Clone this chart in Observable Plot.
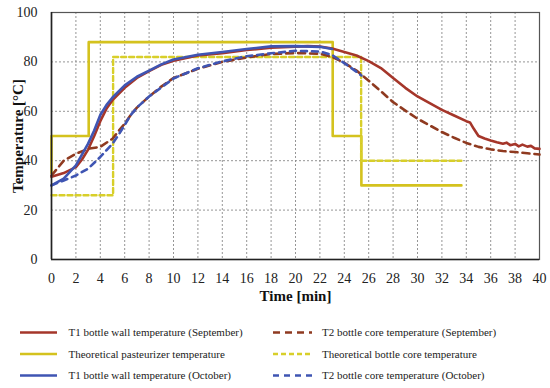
<!DOCTYPE html>
<html>
<head>
<meta charset="utf-8">
<script src="https://cdn.jsdelivr.net/npm/d3@7"></script>
<script src="https://cdn.jsdelivr.net/npm/@observablehq/plot@0.6"></script>
<style>
  html, body { margin: 0; padding: 0; background: #fff; }
  #chart { width: 550px; height: 388px; position: relative; }
  #chart svg, #chart text { font-family: "Times New Roman", "Liberation Serif", Times, "DejaVu Serif", "Noto Serif", Georgia, serif !important; }
  svg { display: block; }
</style>
</head>
<body>
<div id="chart"></div>
<script>
// ---- Data ----
const xTicks = [0,2,4,6,8,10,12,14,16,18,20,22,24,26,28,30,32,34,36,38,40];
const yTicks = [0,20,40,60,80,100];

const seriesNames = [
  "T1 bottle wall temperature (September)",
  "T2 bottle core temperature (September)",
  "Theoretical pasteurizer temperature",
  "Theoretical bottle core temperature",
  "T1 bottle wall temperature (October)",
  "T2 bottle core temperature (October)"
];

const t1SepTime = [0,1,2,2.5,3,3.5,4,4.5,5,6,7,8,9,10,12,14,16,18,20,21,22,23,24,25,26,27,28,29,30,31,32,33,34,34.3,34.6,35,35.5,36,36.5,37,37.3,37.6,38,38.3,38.6,39,39.3,39.6,40];
const t1SepTemp = [33.5,35,37.4,40.5,44.5,50,56,61,64.5,69.5,73.5,76.3,78.8,80.5,82.6,83.5,84.8,85.7,86.2,86.4,86.2,85.4,84,82.6,80.3,77.5,73.5,69.5,66,63.3,60.6,58.3,56,55.5,53,50,49,48.2,47.5,46.9,47.3,46.3,46.8,45.8,46.5,45.7,46,45,44.8];

const t2SepTime = [0,1,2,3,4,5,5.5,6,6.5,7,8,9,10,12,14,16,18,20,22,23,24,25,26,27,28,29,30,31,32,33,34,35,36,37,38,39,40];
const t2SepTemp = [34,40,42.8,44.8,45.6,48.9,52,55,58.5,61.5,66,70,73.5,77.2,80,81.8,83.2,83.6,83.3,82,79.6,76.5,72.4,68.1,63.7,60.3,57,54.3,51.6,49.3,47.2,45.6,44.6,43.9,43.5,43,42.5];

const pastTime = [0,0,3.05,3.05,23.05,23.05,25.4,25.4,33.6];
const pastTemp = [35,50,50,88,88,50,50,30,30];

const coreTime = [0,5.05,5.05,25.38,25.38,33.6];
const coreTemp = [26,26,82,82,40,40];

const t1OctTime = [0,1,2,3,3.5,4,4.5,5,6,7,8,9,10,12,14,16,18,20,22,23];
const t1OctTemp = [30,32.7,38.1,46.9,52.2,58.5,62.5,65.6,70.5,74,76.5,79,81,82.9,84,85.2,86.3,86.4,86.1,85.2];

const t2OctTime = [0,1,2,3,4,4.5,5,5.5,6,6.5,7,8,10,12,14,16,18,20,22,23,24,25,25.4];
const t2OctTemp = [30,32,34,36.8,41.5,44.2,46.9,50.5,54.5,58.5,61.5,66,73.3,77.4,80.2,82.3,83.5,84.5,84.2,82.8,79.5,76,74.5];

// ---- Styles ----
const styles = [
  {color: "#a5362a", dash: null,  width: 2.6},
  {color: "#8f3a20", dash: "7,5", width: 2.6},
  {color: "#d4c21e", dash: null,  width: 2.6},
  {color: "#d8cf2a", dash: "5,3", width: 2.4},
  {color: "#3f55b3", dash: null,  width: 2.6},
  {color: "#3f55b3", dash: "6,5", width: 2.6}
];

const series = [
  [t1SepTime, t1SepTemp],
  [t2SepTime, t2SepTemp],
  [pastTime, pastTemp],
  [coreTime, coreTemp],
  [t1OctTime, t1OctTemp],
  [t2OctTime, t2OctTemp]
].map(([ts, vs]) => ts.map((t, i) => ({t, v: vs[i]})));

const drawOrder = [2, 3, 0, 1, 4, 5];
const lineMarks = drawOrder.map(i => Plot.line(series[i], {
  x: "t", y: "v",
  stroke: styles[i].color,
  strokeWidth: styles[i].width,
  strokeDasharray: styles[i].dash,
  curve: "linear",
  strokeLinejoin: "round"
}));

const plot = Plot.plot({
  width: 550,
  height: 312,
  marginLeft: 51,
  marginRight: 11,
  marginTop: 12,
  marginBottom: 53,
  style: {fontSize: "14px", color: "#222", background: "#fff"},
  x: {domain: [0, 40], label: null},
  y: {domain: [0, 100], label: null},
  marks: [
    Plot.gridX(xTicks, {stroke: "#8a8a8a", strokeOpacity: 1, strokeDasharray: "2,2", strokeWidth: 0.9}),
    Plot.gridY(yTicks, {stroke: "#8a8a8a", strokeOpacity: 1, strokeDasharray: "2,2", strokeWidth: 0.9}),
    Plot.frame({stroke: "#555", strokeWidth: 1.2}),
    ...lineMarks,
    Plot.ruleX([0], {stroke: "#222", strokeWidth: 1.6}),
    Plot.ruleY([0], {stroke: "#222", strokeWidth: 1.6}),
    Plot.axisX(xTicks, {tickSize: 0, tickPadding: 14, fontSize: 14, label: null}),
    Plot.axisY(yTicks, {tickSize: 0, tickPadding: 14, fontSize: 14, label: null}),
    Plot.text(["Time [min]"], {frameAnchor: "bottom", dy: 41.5, fontWeight: "bold", fontSize: 15, fill: "#111"}),
    Plot.text(["Temperature [°C]"], {frameAnchor: "left", dx: -33, rotate: -90, textAnchor: "middle", fontWeight: "bold", fontSize: 15, fill: "#111"})
  ]
});

const root = document.getElementById("chart");
root.appendChild(plot);

// ---- Legend ----
const legend = d3.create("svg").attr("width", 550).attr("height", 76);
const legendOrder = [0, 1, 2, 3, 4, 5];
const rowY = [20.5, 42, 63.5];
const col = [{x0: 20, x1: 57, tx: 68.5}, {x0: 273, x1: 312, tx: 322}];
legendOrder.forEach((si, k) => {
  const r = Math.floor(k / 2), c = k % 2;
  const g = legend.append("g");
  g.append("line")
    .attr("x1", col[c].x0).attr("x2", col[c].x1)
    .attr("y1", rowY[r]).attr("y2", rowY[r])
    .attr("stroke", styles[si].color)
    .attr("stroke-width", styles[si].width)
    .attr("stroke-dasharray", styles[si].dash);
  g.append("text")
    .attr("x", col[c].tx).attr("y", rowY[r])
    .attr("dy", "0.35em")
    .attr("font-size", 11)
    .attr("fill", "#222")
    .text(seriesNames[si]);
});
root.appendChild(legend.node());
</script>
</body>
</html>
